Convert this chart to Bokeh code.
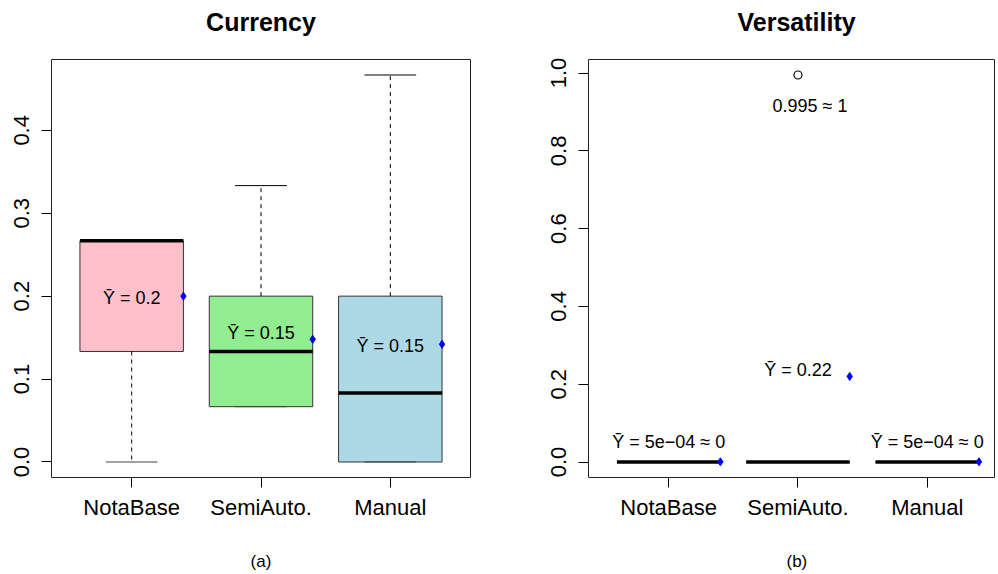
from bokeh.plotting import figure
from bokeh.models import Range1d, FixedTicker, ColumnDataSource, Title, PrintfTickFormatter
from bokeh.layouts import row
from bokeh.embed import file_html
from bokeh.resources import INLINE
from bokeh.core.properties import value

# ---------------- data ----------------
categories = ["NotaBase", "SemiAuto.", "Manual"]
box_colors = ["pink", "lightgreen", "lightblue"]

# Currency
cur_low = [0.0, 0.0667, 0.0]
cur_q1 = [0.1333, 0.0667, 0.0]
cur_med = [0.2667, 0.1333, 0.0833]
cur_q3 = [0.2667, 0.2, 0.2]
cur_high = [0.2667, 0.3333, 0.4667]
cur_mean = [0.2, 0.148, 0.142]
cur_mean_text = ["Ȳ = 0.2", "Ȳ = 0.15", "Ȳ = 0.15"]
cur_yticks = [0.0, 0.1, 0.2, 0.3, 0.4]

# Versatility
ver_low = [0.0, 0.0, 0.0]
ver_q1 = [0.0, 0.0, 0.0]
ver_med = [0.0, 0.0, 0.0]
ver_q3 = [0.0, 0.0, 0.0]
ver_high = [0.0, 0.0, 0.0]
ver_mean = [0.0005, 0.22, 0.0005]
ver_mean_text = ["Ȳ = 5e−04 ≈ 0", "Ȳ = 0.22", "Ȳ = 5e−04 ≈ 0"]
ver_out_cat = ["SemiAuto."]
ver_out_val = [0.995]
ver_out_text = ["0.995 ≈ 1"]
ver_yticks = [0.0, 0.2, 0.4, 0.6, 0.8, 1.0]

# label pixel offsets (style)
cur_label_dy = [2, -6, 2]
ver_label_dy = [-20, -6, -20]

FONT = "Liberation Sans"


def make_panel(title, caption, low, q1, med, q3, high, mean, mean_text, label_dy,
               yticks, y_range, x_range, frame_width, border_left, border_right,
               title_align, title_offset, cap_offset):
    xs = [i + 1 for i in range(len(categories))]
    p = figure(frame_width=frame_width, frame_height=418, x_range=x_range, y_range=y_range,
               output_backend="svg", toolbar_location=None, title=None,
               min_border_left=border_left, min_border_right=border_right,
               min_border_top=59, min_border_bottom=95)
    p.background_fill_color = "white"
    p.border_fill_color = "white"
    p.xgrid.visible = False
    p.ygrid.visible = False
    p.outline_line_color = "#222222"
    p.outline_line_width = 1
    p.outline_line_alpha = 1

    # title (with a spacer between it and the frame)
    p.add_layout(Title(text=" ", text_font_size="2px", standoff=20), "above")
    p.add_layout(Title(text=title, align=title_align, offset=title_offset, text_font=FONT,
                       text_font_size="25px", text_font_style="bold", text_color="black",
                       standoff=0), "above")

    for ax in (p.xaxis[0], p.yaxis[0]):
        ax.axis_line_color = None
        ax.major_tick_line_color = "black"
        ax.major_tick_out = 10
        ax.major_tick_in = 0
        ax.minor_tick_line_color = None
        ax.major_label_text_font = FONT
        ax.major_label_text_font_size = "22px"
        ax.major_label_text_color = "black"

    p.xaxis.ticker = FixedTicker(ticks=xs)
    p.xaxis.major_label_overrides = {x: c for x, c in zip(xs, categories)}
    p.xaxis.major_label_standoff = 7
    p.yaxis.ticker = FixedTicker(ticks=yticks)
    p.yaxis.formatter = PrintfTickFormatter(format="%.1f")
    p.yaxis.major_label_orientation = "vertical"
    p.yaxis.major_label_standoff = 12

    # caption (with a spacer between it and the x axis)
    p.add_layout(Title(text=" ", text_font_size="2px", standoff=23), "below")
    p.add_layout(Title(text=caption, align=title_align, offset=cap_offset, text_font=FONT,
                       text_font_size="17px", text_font_style="normal", text_color="black",
                       standoff=0), "below")

    src = ColumnDataSource(dict(
        x=xs, xl=[x - 0.2 for x in xs], xr=[x + 0.2 for x in xs],
        xbl=[x - 0.4 for x in xs], xbr=[x + 0.4 for x in xs],
        low=low, q1=q1, med=med, q3=q3, high=high, mean=mean,
        mtext=mean_text, dy=label_dy, color=box_colors,
    ))
    p.vbar(x="x", width=0.8, bottom="q1", top="q3", fill_color="color",
           line_color="#333333", line_width=1, source=src)
    p.segment(x0="x", y0="q3", x1="x", y1="high", line_color="black", line_dash="4 4",
              line_width=1, source=src)
    p.segment(x0="x", y0="q1", x1="x", y1="low", line_color="black", line_dash="4 4",
              line_width=1, source=src)
    p.segment(x0="xl", y0="high", x1="xr", y1="high", line_color="black", line_width=1, source=src)
    p.segment(x0="xl", y0="low", x1="xr", y1="low", line_color="#444444", line_width=1, source=src)
    p.segment(x0="xbl", y0="med", x1="xbr", y1="med", line_color="black", line_width=3.5,
              line_cap="butt", source=src)
    p.scatter(x="xbr", y="mean", marker="diamond", size=8, color="blue", source=src)
    p.text(x="x", y="mean", text="mtext", y_offset="dy", text_align="center",
           text_baseline="middle", text_font=value(FONT), text_font_size="18px",
           text_color="black", source=src)
    return p


p1 = make_panel("Currency", "(a)", cur_low, cur_q1, cur_med, cur_q3, cur_high, cur_mean,
                cur_mean_text, cur_label_dy, cur_yticks,
                Range1d(-0.0187, 0.4854), Range1d(0.38, 3.62), 419, 51, 75,
                "center", 0, 0)

p2 = make_panel("Versatility", "(b)", ver_low, ver_q1, ver_med, ver_q3, ver_high, ver_mean,
                ver_mean_text, ver_label_dy, ver_yticks,
                Range1d(-0.0398, 1.0348), Range1d(0.38, 3.52), 406, 43, 2,
                "left", 149, 198)

out_x = [categories.index(c) + 1 for c in ver_out_cat]
osrc = ColumnDataSource(dict(x=out_x, y=ver_out_val, t=ver_out_text))
p2.scatter(x="x", y="y", marker="circle", size=8, fill_color=None, line_color="black",
           line_width=1.2, source=osrc)
p2.text(x="x", y="y", text="t", x_offset=12, y_offset=31, text_align="center",
        text_baseline="middle", text_font=value(FONT), text_font_size="18px",
        text_color="black", source=osrc)

layout = row(p1, p2, spacing=0)
open("out.html", "w").write(file_html(layout, INLINE))
